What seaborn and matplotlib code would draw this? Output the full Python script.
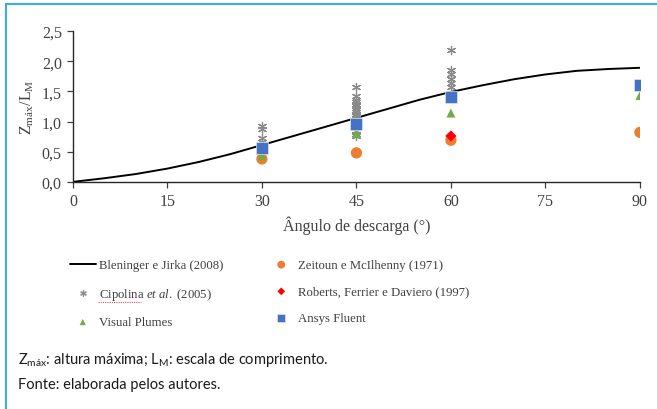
import pandas as pd
import seaborn as sns
import matplotlib.pyplot as plt
from matplotlib.lines import Line2D

sns.set_style('ticks')
plt.rcParams['font.family'] = ['Liberation Serif', 'DejaVu Serif']
plt.rcParams['mathtext.fontset'] = 'custom'
plt.rcParams['mathtext.rm'] = 'Liberation Serif'
plt.rcParams['mathtext.it'] = 'Liberation Serif:italic'
plt.rcParams['mathtext.sf'] = 'Lato'

# Bleninger e Jirka (2008) curve
curve_x = [0, 5, 10, 15, 20, 25, 30, 35, 40, 45, 50, 55, 60, 65, 70, 75, 80, 85, 90]
curve_y = [0.0, 0.06, 0.13, 0.22, 0.33, 0.46, 0.61, 0.76, 0.91, 1.06, 1.21, 1.36,
           1.49, 1.60, 1.70, 1.78, 1.84, 1.87, 1.89]

# Cipolina et al. (2005)
cip_x = [30, 30, 30, 30,
         45, 45, 45, 45, 45, 45, 45, 45, 45, 45, 45, 45, 45, 45, 45, 45, 45, 45,
         60, 60, 60, 60, 60, 60]
cip_y = [0.92, 0.88, 0.72, 0.66,
         1.58, 1.42, 1.36, 1.32, 1.28, 1.25, 1.22, 1.19, 1.16, 1.13, 1.10, 1.06,
         1.02, 0.98, 0.90, 0.85, 0.80, 0.76,
         2.18, 1.85, 1.78, 1.70, 1.63, 1.58]

vp_x = [30, 45, 60, 90]
vp_y = [0.43, 0.80, 1.14, 1.43]

zeit_x = [30, 45, 60, 90]
zeit_y = [0.38, 0.48, 0.69, 0.82]

rob_x = [60]
rob_y = [0.76]

ansys_x = [30, 45, 60, 90]
ansys_y = [0.56, 0.96, 1.41, 1.61]

fig = plt.figure(figsize=(6.57, 4.10), dpi=100)
ax = fig.add_axes([0.111, 0.554, 0.863, 0.368])

sns.lineplot(x=curve_x, y=curve_y, ax=ax, color='black', linewidth=1.4,
             label='Bleninger e Jirka (2008)', legend=False)
sns.scatterplot(x=cip_x, y=cip_y, ax=ax, marker=(6, 2, 0), s=34, color='#8a8a8a',
                linewidth=0.9, label=r'Cipolina $\it{et\ al.}$ (2005)', legend=False, zorder=3)
sns.scatterplot(x=zeit_x, y=zeit_y, ax=ax, marker='o', s=66, color='#ED7D31',
                edgecolor='none', label='Zeitoun e McIlhenny (1971)', legend=False, zorder=3)
sns.scatterplot(x=rob_x, y=rob_y, ax=ax, marker='D', s=32, color='#FF0000',
                edgecolor='none', label='Roberts, Ferrier e Daviero (1997)', legend=False, zorder=4)
sns.scatterplot(x=vp_x, y=vp_y, ax=ax, marker='^', s=42, color='#70AD47',
                edgecolor='none', label='Visual Plumes', legend=False, zorder=4)
sns.scatterplot(x=ansys_x, y=ansys_y, ax=ax, marker='s', s=64, color='#4472C4',
                edgecolor='#dbe5f5', linewidth=0.5, label='Ansys Fluent', legend=False, zorder=5)

ax.set_xlim(0, 90)
ax.set_ylim(0, 2.5)
ax.set_xticks([0, 15, 30, 45, 60, 75, 90])
ax.set_yticks([0, 0.5, 1.0, 1.5, 2.0, 2.5])
ax.set_yticklabels(['0,0', '0,5', '1,0', '1,5', '2,0', '2,5'])
ax.tick_params(labelsize=11.5, colors='#404040', length=4, width=0.9, pad=4)
for side in ['left', 'bottom']:
    ax.spines[side].set_color('#262626')
    ax.spines[side].set_linewidth(1.0)
sns.despine(ax=ax)
ax.set_xlabel('Ângulo de descarga (°)', fontsize=11.5, color='#404040', labelpad=5)
ax.set_ylabel(r'Z$_{\rm máx}$/L$_{\rm M}$', fontsize=11.5, color='#404040', labelpad=4)

handles, labels = ax.get_legend_handles_labels()
order = ['Bleninger e Jirka (2008)', r'Cipolina $\it{et\ al.}$ (2005)', 'Visual Plumes',
         'Zeitoun e McIlhenny (1971)', 'Roberts, Ferrier e Daviero (1997)', 'Ansys Fluent']
hmap = dict(zip(labels, handles))
fig.legend([hmap[k] for k in order], order, loc='upper left',
           bbox_to_anchor=(70 / 657, 1 - 260 / 410), borderaxespad=0, borderpad=0,
           ncol=2, frameon=False, fontsize=9.2, labelspacing=1.15, handlelength=2.0,
           handletextpad=0.3, columnspacing=3.5, markerscale=0.7, labelcolor='#404040')

# spellcheck underline under "Cipolina"
fig.add_artist(Line2D([98 / 657, 141 / 657], [1 - 303 / 410, 1 - 303 / 410],
                      transform=fig.transFigure, color='#e05050', linewidth=0.8,
                      linestyle=(0, (1, 1))))

# caption
fig.text(0.027, 0.112, r'Z$_{\mathsf{máx}}$: altura máxima; L$_{\mathsf{M}}$: escala de comprimento.',
         family='Lato', fontsize=10.5, color='#1a1a1a')
fig.text(0.027, 0.052, 'Fonte: elaborada pelos autores.', family='Lato',
         fontsize=10.5, color='#1a1a1a')

# frame lines
fig.add_artist(Line2D([6 / 657, 1.0], [1 - 5 / 410, 1 - 5 / 410], transform=fig.transFigure,
                      color='#3AAEE0', linewidth=1.5))
fig.add_artist(Line2D([6 / 657, 6 / 657], [0.0, 1 - 5 / 410], transform=fig.transFigure,
                      color='#3AAEE0', linewidth=1.5))

fig.savefig('out.png', dpi=100)
